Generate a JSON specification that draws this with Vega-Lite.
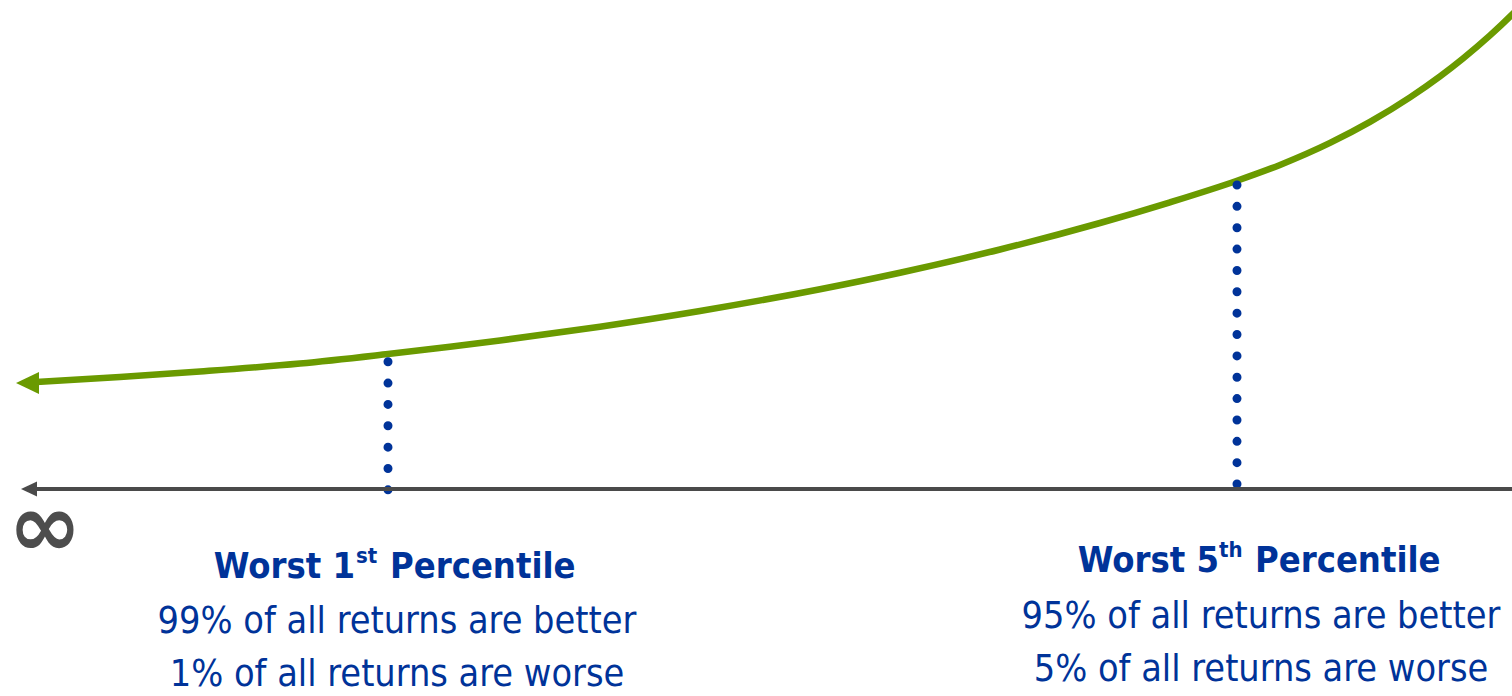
{
  "$schema": "https://vega.github.io/schema/vega-lite/v6.json",
  "width": 1512,
  "height": 696,
  "padding": 0,
  "autosize": {"type": "none"},
  "background": "white",
  "config": {"view": {"stroke": null}},
  "datasets": {
    "curve": [
      {"x": 36, "y": 382},
      {"x": 120, "y": 377},
      {"x": 200, "y": 371.5},
      {"x": 300, "y": 363.5},
      {"x": 388, "y": 354},
      {"x": 450, "y": 346.8},
      {"x": 500, "y": 340.5},
      {"x": 600, "y": 326.7},
      {"x": 700, "y": 311},
      {"x": 820, "y": 289.2},
      {"x": 900, "y": 272.7},
      {"x": 1000, "y": 249.5},
      {"x": 1100, "y": 223},
      {"x": 1170, "y": 202.3},
      {"x": 1237, "y": 180.7},
      {"x": 1280, "y": 164.9},
      {"x": 1330, "y": 142.9},
      {"x": 1370, "y": 121.9},
      {"x": 1410, "y": 97.4},
      {"x": 1440, "y": 76.4},
      {"x": 1463, "y": 58.5},
      {"x": 1490, "y": 35.4},
      {"x": 1512, "y": 14.6},
      {"x": 1520, "y": 6.5}
    ],
    "arrows": [
      {"x": 27.5, "y": 383, "kind": "curve"},
      {"x": 29, "y": 489, "kind": "axis"}
    ],
    "axisline": [{"x": 34, "x2": 1512, "y": 489}],
    "markers": [
      {"x": 388, "y": 361.7, "y2": 490},
      {"x": 1237, "y": 185, "y2": 486}
    ],
    "texts": [
      {"x": 355, "y": 578, "t": "Worst 1", "s": "bigR"},
      {"x": 356, "y": 563, "t": "st", "s": "sup"},
      {"x": 390, "y": 578, "t": "Percentile", "s": "bigL"},
      {"x": 397, "y": 633, "t": "99% of all returns are better", "s": "body"},
      {"x": 397, "y": 686, "t": "1% of all returns are worse", "s": "body"},
      {"x": 1219, "y": 572, "t": "Worst 5", "s": "bigR"},
      {"x": 1219, "y": 557, "t": "th", "s": "sup"},
      {"x": 1255, "y": 572, "t": "Percentile", "s": "bigL"},
      {"x": 1261, "y": 628, "t": "95% of all returns are better", "s": "body"},
      {"x": 1261, "y": 681, "t": "5% of all returns are worse", "s": "body"}
    ],
    "inf": [{"x": 45, "y": 530, "t": "∞"}]
  },
  "encoding": {
    "x": {"field": "x", "type": "quantitative", "scale": {"domain": [0, 1512], "nice": false, "zero": false}, "axis": null},
    "y": {"field": "y", "type": "quantitative", "scale": {"domain": [0, 696], "nice": false, "zero": false, "reverse": true}, "axis": null}
  },
  "layer": [
    {
      "data": {"name": "curve"},
      "mark": {"type": "line", "interpolate": "monotone", "color": "#6a9a00", "strokeWidth": 6.5, "clip": false}
    },
    {
      "data": {"name": "arrows"},
      "transform": [{"filter": "datum.kind === 'curve'"}],
      "mark": {"type": "point", "shape": "M-1,0L1,-0.96L1,0.96Z", "size": 529, "filled": true, "color": "#6a9a00", "opacity": 1, "strokeWidth": 0}
    },
    {
      "data": {"name": "markers"},
      "mark": {"type": "rule", "color": "#003399", "strokeWidth": 9, "strokeCap": "round", "strokeDash": [0.01, 21.35]},
      "encoding": {"y2": {"field": "y2"}}
    },
    {
      "data": {"name": "axisline"},
      "mark": {"type": "rule", "color": "#4a4a4a", "strokeWidth": 4},
      "encoding": {"x2": {"field": "x2"}}
    },
    {
      "data": {"name": "arrows"},
      "transform": [{"filter": "datum.kind === 'axis'"}],
      "mark": {"type": "point", "shape": "M-1,0L1,-0.94L1,0.94Z", "size": 256, "filled": true, "color": "#4a4a4a", "opacity": 1, "strokeWidth": 0}
    },
    {
      "data": {"name": "inf"},
      "mark": {"type": "text", "font": "DejaVu Sans", "fontWeight": "bold", "fontSize": 88, "color": "#4d4d4d", "baseline": "middle", "align": "center"},
      "encoding": {"text": {"field": "t"}}
    },
    {
      "data": {"name": "texts"},
      "transform": [{"filter": "datum.s === 'bigR'"}],
      "mark": {"type": "text", "font": "DejaVu Sans Condensed, Roboto", "fontWeight": "bold", "fontSize": 36, "color": "#003399", "baseline": "alphabetic", "align": "right"},
      "encoding": {"text": {"field": "t"}}
    },
    {
      "data": {"name": "texts"},
      "transform": [{"filter": "datum.s === 'bigL'"}],
      "mark": {"type": "text", "font": "DejaVu Sans Condensed, Roboto", "fontWeight": "bold", "fontSize": 36, "color": "#003399", "baseline": "alphabetic", "align": "left"},
      "encoding": {"text": {"field": "t"}}
    },
    {
      "data": {"name": "texts"},
      "transform": [{"filter": "datum.s === 'sup'"}],
      "mark": {"type": "text", "font": "DejaVu Sans Condensed, Roboto", "fontWeight": "bold", "fontSize": 22, "color": "#003399", "baseline": "alphabetic", "align": "left"},
      "encoding": {"text": {"field": "t"}}
    },
    {
      "data": {"name": "texts"},
      "transform": [{"filter": "datum.s === 'body'"}],
      "mark": {"type": "text", "font": "DejaVu Sans Condensed, Roboto", "fontSize": 37.5, "color": "#003399", "baseline": "alphabetic", "align": "center"},
      "encoding": {"text": {"field": "t"}}
    }
  ]
}
